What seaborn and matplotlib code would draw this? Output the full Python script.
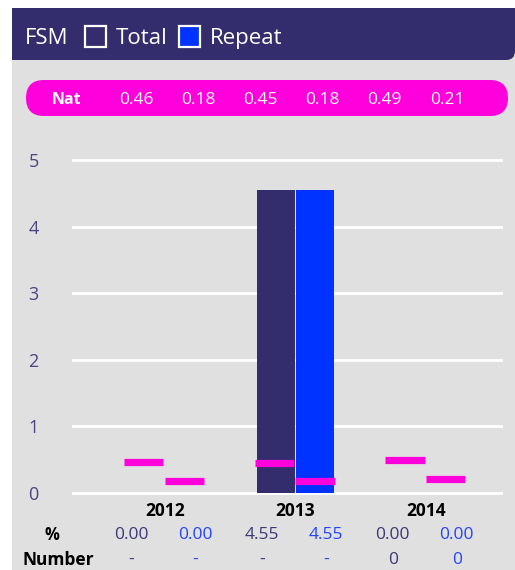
import pandas as pd
import matplotlib.pyplot as plt
import matplotlib.patches as mpatches
import matplotlib.transforms as mtransforms
import seaborn as sns

# Data
years = ['2012', '2013', '2014']
series = ['Total', 'Repeat']
total_values = [0.00, 4.55, 0.00]
repeat_values = [0.00, 4.55, 0.00]
nat_total = [0.46, 0.45, 0.49]
nat_repeat = [0.18, 0.18, 0.21]
pct_total_labels = ['0.00', '4.55', '0.00']
pct_repeat_labels = ['0.00', '4.55', '0.00']
number_total_labels = ['-', '-', '0']
number_repeat_labels = ['-', '-', '0']
y_ticks = [0, 1, 2, 3, 4, 5]

dark = '#332D6E'
blue = '#0033FF'
magenta = '#FF00DD'
panel_gray = '#E0E0E0'
font = 'Open Sans'

df = pd.DataFrame({
    'year': years * 2,
    'series': ['Total'] * 3 + ['Repeat'] * 3,
    'value': total_values + repeat_values,
})

W, H = 515, 570
fig = plt.figure(figsize=(W / 100, H / 100), dpi=100)
fig.patch.set_facecolor('white')

# background layer in pixel coordinates
bg = fig.add_axes([0, 0, 1, 1])
bg.set_xlim(0, W)
bg.set_ylim(H, 0)
bg.axis('off')
bg.set_zorder(0)

bg.add_patch(mpatches.Rectangle((12, 55), W - 12, H - 55, color=panel_gray, lw=0))
# header with rounded bottom-right corner
bg.add_patch(mpatches.FancyBboxPatch((12, 8), W - 12, 52,
                                     boxstyle='round,pad=0,rounding_size=9',
                                     color=dark, lw=0))
bg.add_patch(mpatches.Rectangle((12, 8), W - 12, 30, color=dark, lw=0))
bg.add_patch(mpatches.Rectangle((12, 8), W - 40, 52, color=dark, lw=0))

bg.text(25, 38.5, 'FSM', color='white', fontsize=16, family=font, va='center', ha='left')
bg.add_patch(mpatches.Rectangle((85, 26), 21, 21, facecolor=dark, edgecolor='white', lw=1.6))
bg.text(116, 38.5, 'Total', color='white', fontsize=16, family=font, va='center', ha='left')
bg.add_patch(mpatches.Rectangle((179, 26), 21, 21, facecolor=blue, edgecolor='white', lw=1.6))
bg.text(210, 38.5, 'Repeat', color='white', fontsize=16, family=font, va='center', ha='left')

# national average pill
bg.add_patch(mpatches.FancyBboxPatch((26, 80), 482, 36,
                                     boxstyle='round,pad=0,rounding_size=18',
                                     color=magenta, lw=0))
bg.text(66, 100, 'Nat', color='white', fontsize=11.5, family=font, weight='bold',
        va='center', ha='center')
nat_all = [v for pair in zip(nat_total, nat_repeat) for v in pair]
for k, v in enumerate(nat_all):
    bg.text(136 + 62.2 * k, 100, f'{v:.2f}', color='white', fontsize=12.5, family=font,
            va='center', ha='center')

# main chart axes: y from -0.05 to 5.05, 0 at px 493, 5 at px 160
ppu = (493 - 160) / 5
y_lo, y_hi = -0.05, 5.05
top_px = 160 - (y_hi - 5) * ppu
bot_px = 493 + (0 - y_lo) * ppu
ax = fig.add_axes([72 / W, (H - bot_px) / H, (503 - 72) / W, (bot_px - top_px) / H])
ax.set_zorder(1)
ax.patch.set_alpha(0)

sns.barplot(data=df, x='year', y='value', hue='series', hue_order=series,
            palette=[dark, blue], saturation=1, width=0.6, gap=0.03,
            linewidth=0, edgecolor='none', legend=False, ax=ax, zorder=2)

for i in range(len(years)):
    ax.hlines(nat_total[i], i - 0.31, i - 0.01, color=magenta, lw=5.2, zorder=3)
    ax.hlines(nat_repeat[i], i, i + 0.3, color=magenta, lw=5.2, zorder=3)

ax.set_xlim(-0.71, 2.59)
ax.set_ylim(y_lo, y_hi)
ax.set_yticks(y_ticks)
ax.yaxis.grid(True, color='white', lw=2)
ax.set_axisbelow(True)
sns.despine(ax=ax, left=True, bottom=True)
ax.tick_params(axis='y', length=0, pad=24, labelsize=13, labelcolor='#4A4487')
ax.tick_params(axis='x', length=0, pad=4, labelsize=12.5, labelcolor='black')
for lab in ax.get_yticklabels():
    lab.set_family(font)
for lab in ax.get_xticklabels():
    lab.set_family(font)
    lab.set_weight('bold')
ax.set_xlabel('')
ax.set_ylabel('')

# value rows under the axis
trans = mtransforms.blended_transform_factory(ax.transData, bg.transData)
bg.text(52, 535, '%', color='black', fontsize=12, family=font, weight='bold',
        ha='center', va='center')
bg.text(58, 560, 'Number', color='black', fontsize=12.5, family=font, weight='bold',
        ha='center', va='center')
for i in range(len(years)):
    ax.text(i - 0.255, 535, pct_total_labels[i], transform=trans, color='#3D3878',
            fontsize=12.5, family=font, ha='center', va='center', clip_on=False)
    ax.text(i + 0.235, 535, pct_repeat_labels[i], transform=trans, color='#2244FF',
            fontsize=12.5, family=font, ha='center', va='center', clip_on=False)
    ax.text(i - 0.255, 560, number_total_labels[i], transform=trans, color='#3D3878',
            fontsize=12.5, family=font, ha='center', va='center', clip_on=False)
    ax.text(i + 0.235, 560, number_repeat_labels[i], transform=trans, color='#2244FF',
            fontsize=12.5, family=font, ha='center', va='center', clip_on=False)

fig.savefig('out.png', dpi=100)
